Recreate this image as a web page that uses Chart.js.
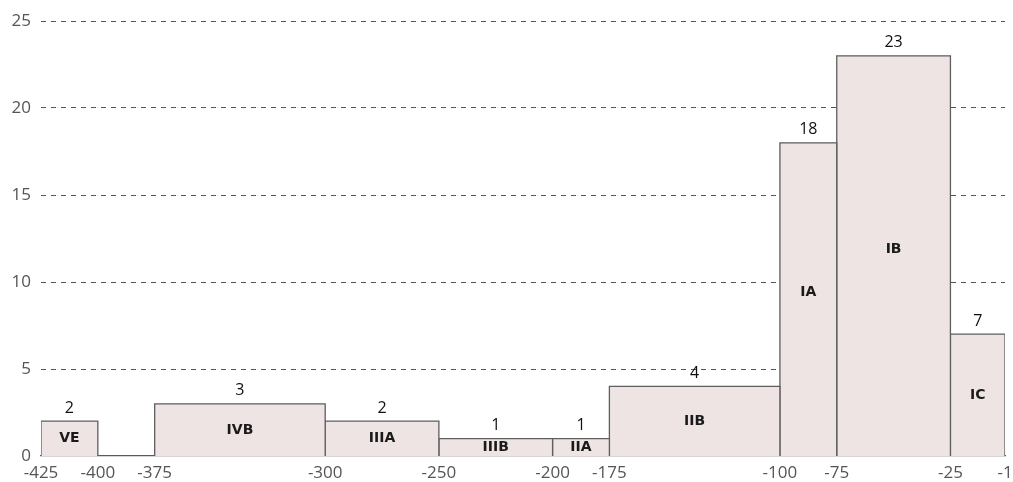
<!DOCTYPE html>
<html>
<head>
<meta charset="utf-8">
<script src="https://cdn.jsdelivr.net/npm/chart.js@4"></script>
<style>
  html, body { margin: 0; padding: 0; background: #fff; }
  #wrap { width: 1013px; height: 482px; }
</style>
</head>
<body>
<div id="wrap"><canvas id="chart" width="1013" height="482"></canvas></div>
<script>
/* === Data === */
const groups     = ['VE', 'IVB', 'IIIA', 'IIIB', 'IIA', 'IIB', 'IA', 'IB', 'IC'];
const binStart   = [-425, -375, -300, -250, -200, -175, -100, -75, -25];
const binEnd     = [-400, -300, -250, -200, -175, -100, -75, -25, -1];
const counts     = [2, 3, 2, 1, 1, 4, 18, 23, 7];
const xTicks     = [-425, -400, -375, -300, -250, -200, -175, -100, -75, -25, -1];
const yTicks     = [0, 5, 10, 15, 20, 25];

/* === Style === */
const FILL   = '#efe4e4';
const EDGE   = '#5e5e5e';
const AXIS_C = '#5a5a5a';
const FONT   = "'Open Sans', 'Liberation Sans', sans-serif";

/* one outline per bin, filled down to zero */
const datasets = groups.map((g, i) => ({
  label: g,
  data: [
    { x: binStart[i], y: 0 },
    { x: binStart[i], y: counts[i] },
    { x: binEnd[i],   y: counts[i] },
    { x: binEnd[i],   y: 0 }
  ],
  backgroundColor: FILL,
  borderColor: EDGE,
  borderWidth: 1.3,
  fill: 'origin',
  pointRadius: 0,
  tension: 0
}));

/* === Bin labels === */
const binLabels = {
  id: 'binLabels',
  afterDatasetsDraw(chart) {
    const { ctx, scales: { x, y } } = chart;
    ctx.save();
    ctx.textAlign = 'center';
    ctx.textBaseline = 'middle';
    groups.forEach((g, i) => {
      const cx = x.getPixelForValue((binStart[i] + binEnd[i]) / 2);
      const top = y.getPixelForValue(counts[i]);
      const base = y.getPixelForValue(0);
      ctx.fillStyle = '#111';
      ctx.font = `16px ${FONT}`;
      ctx.fillText(String(counts[i]), cx, top - 13);
      ctx.font = "bold 14px 'DejaVu Sans', Verdana, sans-serif";
      ctx.fillStyle = '#1a1a1a';
      ctx.fillText(g, cx, (top + base) / 2 - (counts[i] > 15 ? 7 : 0));
    });
    ctx.restore();
  }
};

new Chart(document.getElementById('chart'), {
  type: 'line',
  data: { datasets },
  plugins: [binLabels],
  options: {
    responsive: false,
    animation: false,
    layout: { padding: { top: 21, left: 0, right: 8, bottom: 0 } },
    plugins: { legend: { display: false }, tooltip: { enabled: false } },
    scales: {
      x: {
        type: 'linear',
        min: -425,
        max: -1,
        afterBuildTicks: axis => { axis.ticks = xTicks.map(v => ({ value: v })); },
        afterFit: axis => { axis.height = 26; axis.paddingLeft = 0; axis.paddingRight = 0; },
        grid: { display: false, drawTicks: false },
        border: { display: true, color: AXIS_C, width: 1.3 },
        ticks: {
          autoSkip: false,
          maxRotation: 0,
          padding: 7,
          color: '#555',
          font: { family: FONT, size: 17 },
          callback: v => String(v)
        }
      },
      y: {
        min: 0,
        max: 25,
        afterBuildTicks: axis => { axis.ticks = yTicks.map(v => ({ value: v })); },
        afterFit: axis => { axis.width = 41; axis.paddingTop = 0; axis.paddingBottom = 0; },
        border: { display: false, dash: [5, 5] },
        grid: {
          drawTicks: false,
          color: ctx => ctx.tick && ctx.tick.value === 0 ? 'rgba(0,0,0,0)' : '#555',
          lineWidth: 1
        },
        ticks: {
          padding: 10,
          color: '#555',
          font: { family: FONT, size: 17 }
        }
      }
    }
  }
});
</script>
</body>
</html>
